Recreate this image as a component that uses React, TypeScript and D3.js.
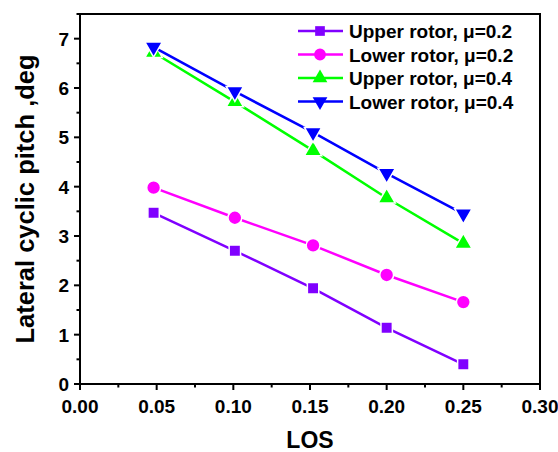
import React, { useRef, useEffect } from 'react';
import { select, scaleLinear, line, symbol, symbolSquare, symbolCircle, symbolTriangle } from 'd3';

const los = [0.048, 0.101, 0.152, 0.2, 0.25];
const upper02 = [3.47, 2.7, 1.94, 1.14, 0.4];
const lower02 = [3.98, 3.37, 2.81, 2.21, 1.66];
const upper04 = [6.72, 5.72, 4.73, 3.77, 2.85];
const lower04 = [6.83, 5.93, 5.1, 4.27, 3.45];
const seriesNames = ['Upper rotor, μ=0.2', 'Lower rotor, μ=0.2', 'Upper rotor, μ=0.4', 'Lower rotor, μ=0.4'];
const xTicks = [0, 0.05, 0.1, 0.15, 0.2, 0.25, 0.3];
const yTicks = [0, 1, 2, 3, 4, 5, 6, 7];

const W = 558, H = 452;
const margin = { left: 80, right: 18, top: 14, bottom: 68 };
const font = 'Arial, "Liberation Sans", sans-serif';

function App() {
  const svgRef = useRef(null);

  useEffect(() => {
    const svg = select(svgRef.current);
    svg.selectAll('*').remove();

    const x = scaleLinear().domain([0, 0.3]).range([margin.left, W - margin.right]);
    const y = scaleLinear().domain([0, 7.5]).range([H - margin.bottom, margin.top]);

    const series = [
      { name: seriesNames[0], values: upper02, color: '#8000ff', shape: 'square' },
      { name: seriesNames[1], values: lower02, color: '#ff00ff', shape: 'circle' },
      { name: seriesNames[2], values: upper04, color: '#00ff00', shape: 'up' },
      { name: seriesNames[3], values: lower04, color: '#0000ff', shape: 'down' },
    ];

    const markerPath = (shape) => {
      if (shape === 'square') return symbol(symbolSquare, 130)();
      if (shape === 'circle') return symbol(symbolCircle, 150)();
      return symbol(symbolTriangle, 130)();
    };
    const rot = (shape) => (shape === 'down' ? ' rotate(180)' : '');

    const g = svg.append('g');
    const x0 = x(0), x1 = x(0.3), y0 = y(0), y1 = y(7.5);

    // ticks, major every label, minor in between
    for (let i = 0; i <= 12; i++) {
      const v = i * 0.025;
      const major = i % 2 === 0;
      g.append('line').attr('x1', x(v)).attr('x2', x(v)).attr('y1', y0).attr('y2', y0 + (major ? 6 : 3.5))
        .attr('stroke', '#000').attr('stroke-width', 2);
    }
    for (let i = 0; i <= 15; i++) {
      const v = i * 0.5;
      const major = i % 2 === 0;
      g.append('line').attr('x1', x0).attr('x2', x0 - (major ? 6 : 3.5)).attr('y1', y(v)).attr('y2', y(v))
        .attr('stroke', '#000').attr('stroke-width', 2);
    }
    g.append('rect').attr('x', x0).attr('y', y1).attr('width', x1 - x0).attr('height', y0 - y1)
      .attr('fill', 'none').attr('stroke', '#000').attr('stroke-width', 2);

    g.selectAll('.xt').data(xTicks).join('text')
      .attr('x', (d) => x(d)).attr('y', y0 + 29).attr('text-anchor', 'middle')
      .attr('font-family', font).attr('font-weight', 'bold').attr('font-size', 19)
      .text((d) => d.toFixed(2));
    g.selectAll('.yt').data(yTicks).join('text')
      .attr('x', x0 - 11).attr('y', (d) => y(d) + 7).attr('text-anchor', 'end')
      .attr('font-family', font).attr('font-weight', 'bold').attr('font-size', 19)
      .text((d) => d);

    g.append('text').attr('x', (x0 + x1) / 2).attr('y', 448).attr('text-anchor', 'middle')
      .attr('font-family', font).attr('font-weight', 'bold').attr('font-size', 23).text('LOS');
    g.append('text').attr('transform', `translate(34,${(y0 + y1) / 2}) rotate(-90)`).attr('text-anchor', 'middle')
      .attr('font-family', font).attr('font-weight', 'bold').attr('font-size', 25.5).text('Lateral cyclic pitch ,deg');

    const lineGen = line().x((d) => x(d[0])).y((d) => y(d[1]));
    series.forEach((s) => {
      const pts = los.map((v, i) => [v, s.values[i]]);
      svg.append('path').attr('d', lineGen(pts)).attr('fill', 'none').attr('stroke', s.color).attr('stroke-width', 2.5);
      svg.selectAll(null).data(pts).join('path')
        .attr('d', markerPath(s.shape))
        .attr('transform', (d) => `translate(${x(d[0])},${y(d[1])})${rot(s.shape)}`)
        .attr('fill', s.color).attr('stroke', '#fff').attr('stroke-width', 1.5);
    });

    // legend
    const lg = svg.append('g');
    series.forEach((s, i) => {
      const ly = 31 + i * 23.5;
      lg.append('line').attr('x1', 298).attr('x2', 343).attr('y1', ly).attr('y2', ly)
        .attr('stroke', s.color).attr('stroke-width', 2.5);
      lg.append('path').attr('d', markerPath(s.shape)).attr('transform', `translate(320,${ly})${rot(s.shape)} scale(0.85)`)
        .attr('fill', s.color);
      lg.append('text').attr('x', 349).attr('y', ly + 7).attr('font-family', font).attr('font-weight', 'bold')
        .attr('font-size', 19).text(s.name);
    });
  }, []);

  return (
    <svg ref={svgRef} width={W} height={H} style={{ position: 'absolute', left: 0, top: 0, background: '#fff' }} />
  );
}

export default App;
